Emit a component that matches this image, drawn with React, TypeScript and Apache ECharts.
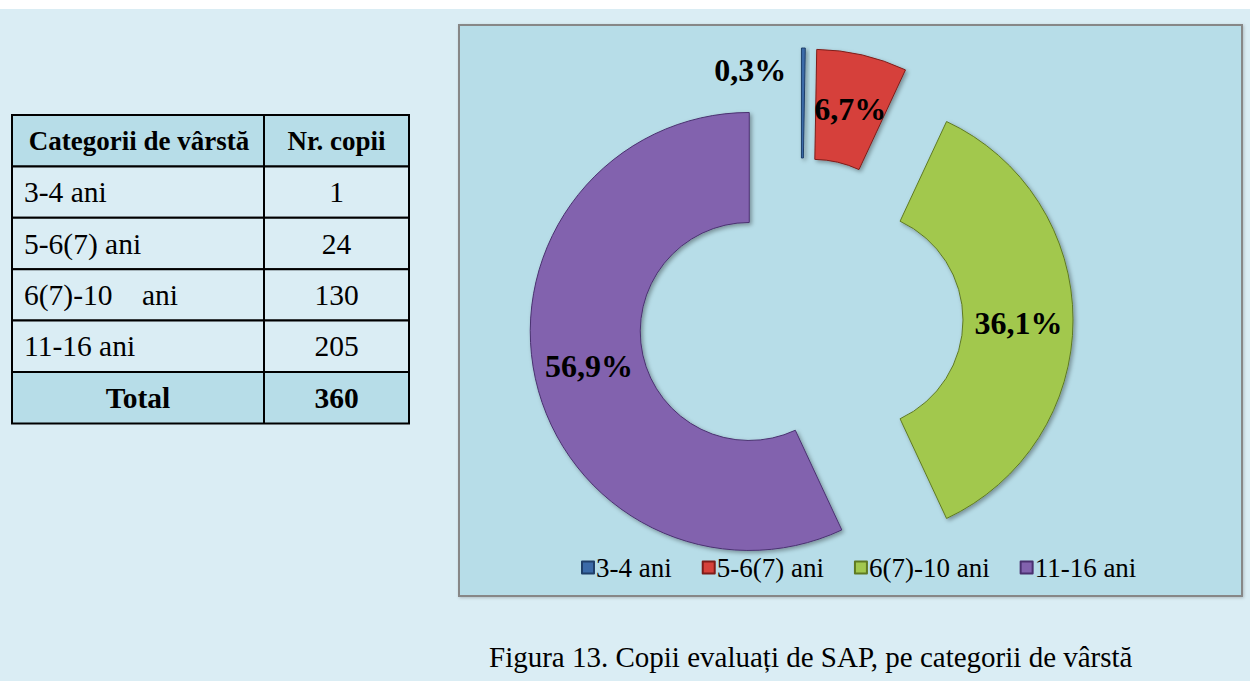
import React, { useEffect, useRef } from "react";
import * as echarts from "echarts";

const categories = ["3-4 ani", "5-6(7) ani", "6(7)-10 ani", "11-16 ani"];
const tableLabels = ["3-4 ani", "5-6(7) ani", "6(7)-10    ani", "11-16 ani"];
const counts = [1, 24, 130, 205];
const colors = ["#3b6aa8", "#d6413b", "#a2c84e", "#8262ae"];
const borderColors = ["#1f3f6a", "#7e1c19", "#5f7a22", "#4a3170"];
const labelOffsets = [[-53, -33], [-10, 0], [32, 3], [-97, 35]];
const headers = ["Categorii de vârstă", "Nr. copii"];
const totalLabel = "Total";
const caption = "Figura 13. Copii evaluați de SAP, pe categorii de vârstă";

const SERIF = "Liberation Serif";

export default function App() {
  const ref = useRef<HTMLDivElement>(null);
  useEffect(() => {
    if (!ref.current) return;
    const chart = echarts.init(ref.current, undefined, { renderer: "svg" });
    const total = counts.reduce((a, b) => a + b, 0);
    const fmtPct = (v: number) => ((v / total) * 100).toFixed(1).replace(".", ",") + "%";

    const tx0 = 12, tx1 = 264, tx2 = 409;
    const ty0 = 115;
    const rowH = 51.4;
    const graphics: any[] = [];
    graphics.push({ type: "rect", z: -20, shape: { x: 0, y: 0, width: 1250, height: 681 }, style: { fill: "#ffffff" } });
    graphics.push({ type: "rect", z: -19, shape: { x: 0, y: 9, width: 1250, height: 672 }, style: { fill: "#daedf4" } });
    graphics.push({
      type: "rect", z: -18,
      shape: { x: 459, y: 25, width: 783, height: 571 },
      style: { fill: "#b7dde8", stroke: "#878787", lineWidth: 2, shadowColor: "rgba(0,0,0,0.2)", shadowBlur: 3, shadowOffsetX: 1, shadowOffsetY: 1 },
    });
    const nRows = counts.length + 2;
    for (let i = 0; i < nRows; i++) {
      const isHeadOrTotal = i === 0 || i === nRows - 1;
      graphics.push({
        type: "rect", z: -17,
        shape: { x: tx0, y: ty0 + i * rowH, width: tx2 - tx0, height: rowH },
        style: { fill: isHeadOrTotal ? "#b7dde8" : "#daedf4", stroke: "#000", lineWidth: 2 },
      });
    }
    graphics.push({ type: "line", z: -16, shape: { x1: tx1, y1: ty0, x2: tx1, y2: ty0 + nRows * rowH }, style: { stroke: "#000", lineWidth: 2 } });
    const cellText = (text: string, x: number, row: number, align: string, bold: boolean, size: number) => ({
      type: "text", z: -15, x, y: ty0 + row * rowH + rowH / 2,
      style: {
        text, fill: "#000", fontFamily: SERIF, fontSize: size, fontWeight: bold ? "bold" : "normal",
        textAlign: align, textVerticalAlign: "middle",
      },
    });
    graphics.push(cellText(headers[0], (tx0 + tx1) / 2 + 1, 0, "center", true, 27));
    graphics.push(cellText(headers[1], (tx1 + tx2) / 2, 0, "center", true, 27));
    tableLabels.forEach((c, i) => {
      graphics.push(cellText(c, 24, i + 1, "left", false, 29.5));
      graphics.push(cellText(String(counts[i]), (tx1 + tx2) / 2, i + 1, "center", false, 29.5));
    });
    graphics.push(cellText(totalLabel, (tx0 + tx1) / 2, nRows - 1, "center", true, 29.5));
    graphics.push(cellText(String(total), (tx1 + tx2) / 2, nRows - 1, "center", true, 29.5));
    graphics.push({
      type: "text", z: -15, x: 489, y: 657,
      style: { text: caption, fill: "#000", fontFamily: SERIF, fontSize: 29, textAlign: "left", textVerticalAlign: "middle" },
    });

    const labelStyle = { fontSize: 32, fontWeight: "bold", fontFamily: SERIF, color: "#000" };
    const data = categories.map((name, i) => {
      const itemStyle = {
        color: colors[i], borderColor: borderColors[i], borderWidth: 1,
        shadowColor: "rgba(0,0,0,0.35)", shadowBlur: 4, shadowOffsetX: 2, shadowOffsetY: 2,
      };
      const label: any = {
        show: true, position: "inside", ...labelStyle,
        offset: labelOffsets[i], formatter: () => fmtPct(counts[i]),
      };
      return {
        name, value: counts[i], selected: true,
        itemStyle, label,
        select: { itemStyle, label },
      };
    });

    chart.setOption({
      animation: false,
      graphic: graphics,
      legend: {
        data: categories,
        left: 576, top: 549,
        icon: "rect", itemWidth: 12, itemHeight: 12, itemGap: 30,
        textStyle: { fontFamily: SERIF, fontSize: 27, color: "#000", padding: [0, 0, 0, -3] },
        selectedMode: false,
      },
      series: [
        {
          type: "pie",
          center: [801, 320],
          radius: [109, 219],
          startAngle: 90,
          clockwise: true,
          selectedMode: "multiple",
          selectedOffset: 53,
          avoidLabelOverlap: false,
          labelLine: { show: false },
          emphasis: { disabled: true },
          data,
        },
      ],
    });
    return () => chart.dispose();
  }, []);
  return <div ref={ref} style={{ position: "absolute", left: 0, top: 0, width: 1250, height: 681 }} />;
}
